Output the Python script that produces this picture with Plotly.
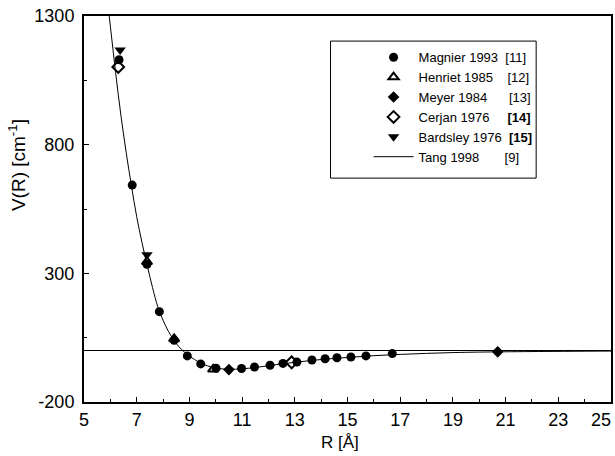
import plotly.graph_objects as go

# Interatomic potential data, R in Angstrom, V in cm^-1
magnier_r = [6.33, 6.83, 7.39, 7.86, 8.42, 8.92, 9.43, 10.01, 10.98, 11.47, 12.06,
             12.55, 13.08, 13.65, 14.15, 14.60, 15.13, 15.70, 16.70]
magnier_v = [1130, 643, 335, 151, 40, -21, -52, -69, -70, -64, -57,
             -50, -45, -37, -32, -28, -25, -21, -12]

henriet_r = [7.39, 8.42, 9.90]
henriet_v = [345, 45, -73]

meyer_r = [10.50, 20.70]
meyer_v = [-74, -5]

cerjan_r = [6.30, 12.88]
cerjan_v = [1102, -46]

bardsley_r = [6.37, 7.39]
bardsley_v = [1168, 372]

tang_r = [5.8, 6.0, 6.2, 6.4, 6.6, 6.8, 7.0, 7.2, 7.4, 7.6, 7.8, 8.0, 8.2, 8.4,
          8.6, 8.8, 9.0, 9.2, 9.4, 9.7, 10.0, 10.5, 11.0, 11.5, 12.0, 12.5, 13.0,
          13.5, 14.0, 15.0, 16.0, 17.0, 18.0, 19.0, 20.0, 22.0, 25.0]
tang_v = [1440, 1260, 1080, 915, 770, 640, 520, 420, 330, 245, 170, 118, 75, 42,
          15, -5, -22, -35, -48, -60, -68, -73, -71, -66, -59, -52, -46,
          -40, -35, -27, -20, -15, -11, -8, -6, -4, -2]

# the last x label (25) sits flush with the right edge, drawn separately
x_ticks = [5, 7, 9, 11, 13, 15, 17, 19, 21, 23]
x_labels = ["5", "7", "9", "11", "13", "15", "17", "19", "21", "23"]
x_last = 25
y_ticks = [-200, 300, 800, 1300]
y_labels = ["-200", "300", "800", "1300"]

NB = "\u00a0"
FONT = "Liberation Sans, Arial, sans-serif"

fig = go.Figure()

fig.add_trace(go.Scatter(
    x=tang_r, y=tang_v, mode="lines", line=dict(color="black", width=1, shape="spline"),
    name="Tang 1998" + NB * 7 + "[9]", legendrank=6))

fig.add_trace(go.Scatter(
    x=magnier_r, y=magnier_v, mode="markers",
    marker=dict(symbol="circle", size=9, color="black"),
    name="Magnier 1993" + NB * 2 + "[11]", legendrank=1))

fig.add_trace(go.Scatter(
    x=henriet_r, y=henriet_v, mode="markers",
    marker=dict(symbol="triangle-up-open", size=9, color="black", line=dict(width=2)),
    name="Henriet 1985" + NB * 4 + "[12]", legendrank=2))

fig.add_trace(go.Scatter(
    x=meyer_r, y=meyer_v, mode="markers",
    marker=dict(symbol="diamond", size=9, color="black"),
    name="Meyer 1984" + NB * 6 + "[13]", legendrank=3))

fig.add_trace(go.Scatter(
    x=cerjan_r, y=cerjan_v, mode="markers",
    marker=dict(symbol="diamond-open", size=9, color="black", line=dict(width=2)),
    name="Cerjan 1976" + NB * 5 + "<b>[14]</b>", legendrank=4))

fig.add_trace(go.Scatter(
    x=bardsley_r, y=bardsley_v, mode="markers",
    marker=dict(symbol="triangle-down", size=10, color="black"),
    name="Bardsley 1976" + NB * 2 + "<b>[15]</b>", legendrank=5))

fig.update_layout(
    width=615, height=456, autosize=False,
    margin=dict(l=84, r=4, t=16, b=54, autoexpand=False),
    paper_bgcolor="white", plot_bgcolor="white",
    font=dict(family=FONT, color="black", size=18),
    showlegend=True,
    legend=dict(
        x=0.54, y=0.932, xanchor="left", yanchor="top",
        bgcolor="rgba(0,0,0,0)", borderwidth=0,
        font=dict(family=FONT, size=13, color="black"),
        itemwidth=40, traceorder="normal",
    ),
    shapes=[dict(
        type="rect", xref="paper", yref="paper",
        x0=0.4678, x1=0.858, y0=0.580, y1=0.935,
        line=dict(color="black", width=1), fillcolor="white", layer="below",
    )],
    annotations=[
        dict(text="V(R) [cm<sup>-1</sup>]", xref="paper", yref="paper",
             x=-0.127, y=0.614, textangle=-90, showarrow=False,
             xanchor="center", yanchor="middle",
             font=dict(family=FONT, size=19, color="black")),
        dict(text="R [Å]", xref="paper", yref="paper",
             x=0.485, y=-0.105, showarrow=False,
             xanchor="center", yanchor="middle",
             font=dict(family=FONT, size=17, color="black")),
        dict(text=str(x_last), xref="x", yref="paper",
             x=x_last, y=-0.046, xshift=2, showarrow=False,
             xanchor="right", yanchor="middle",
             font=dict(family=FONT, size=18, color="black")),
    ],
)

fig.update_xaxes(
    range=[5, 25], tickvals=x_ticks, ticktext=x_labels, ticks="inside", ticklen=5,
    tickwidth=1, tickcolor="black", showline=True, linewidth=2, linecolor="black",
    mirror=True, showgrid=False, zeroline=False, tickfont=dict(size=18),
    automargin=False,
    minor=dict(dtick=1, tick0=5, ticks="inside", ticklen=3, tickcolor="black", showgrid=False),
)
fig.update_yaxes(
    range=[-200, 1300], tickvals=y_ticks, ticktext=y_labels, ticks="inside", ticklen=5,
    tickwidth=1, tickcolor="black", showline=True, linewidth=2, linecolor="black",
    mirror=True, showgrid=False, zeroline=True, zerolinecolor="black", zerolinewidth=1,
    tickfont=dict(size=18), ticklabelstandoff=4, ticklabeloverflow="allow", automargin=False,
    minor=dict(dtick=250, tick0=-200, ticks="inside", ticklen=3, tickcolor="black", showgrid=False),
)

fig.write_html("out.html")
